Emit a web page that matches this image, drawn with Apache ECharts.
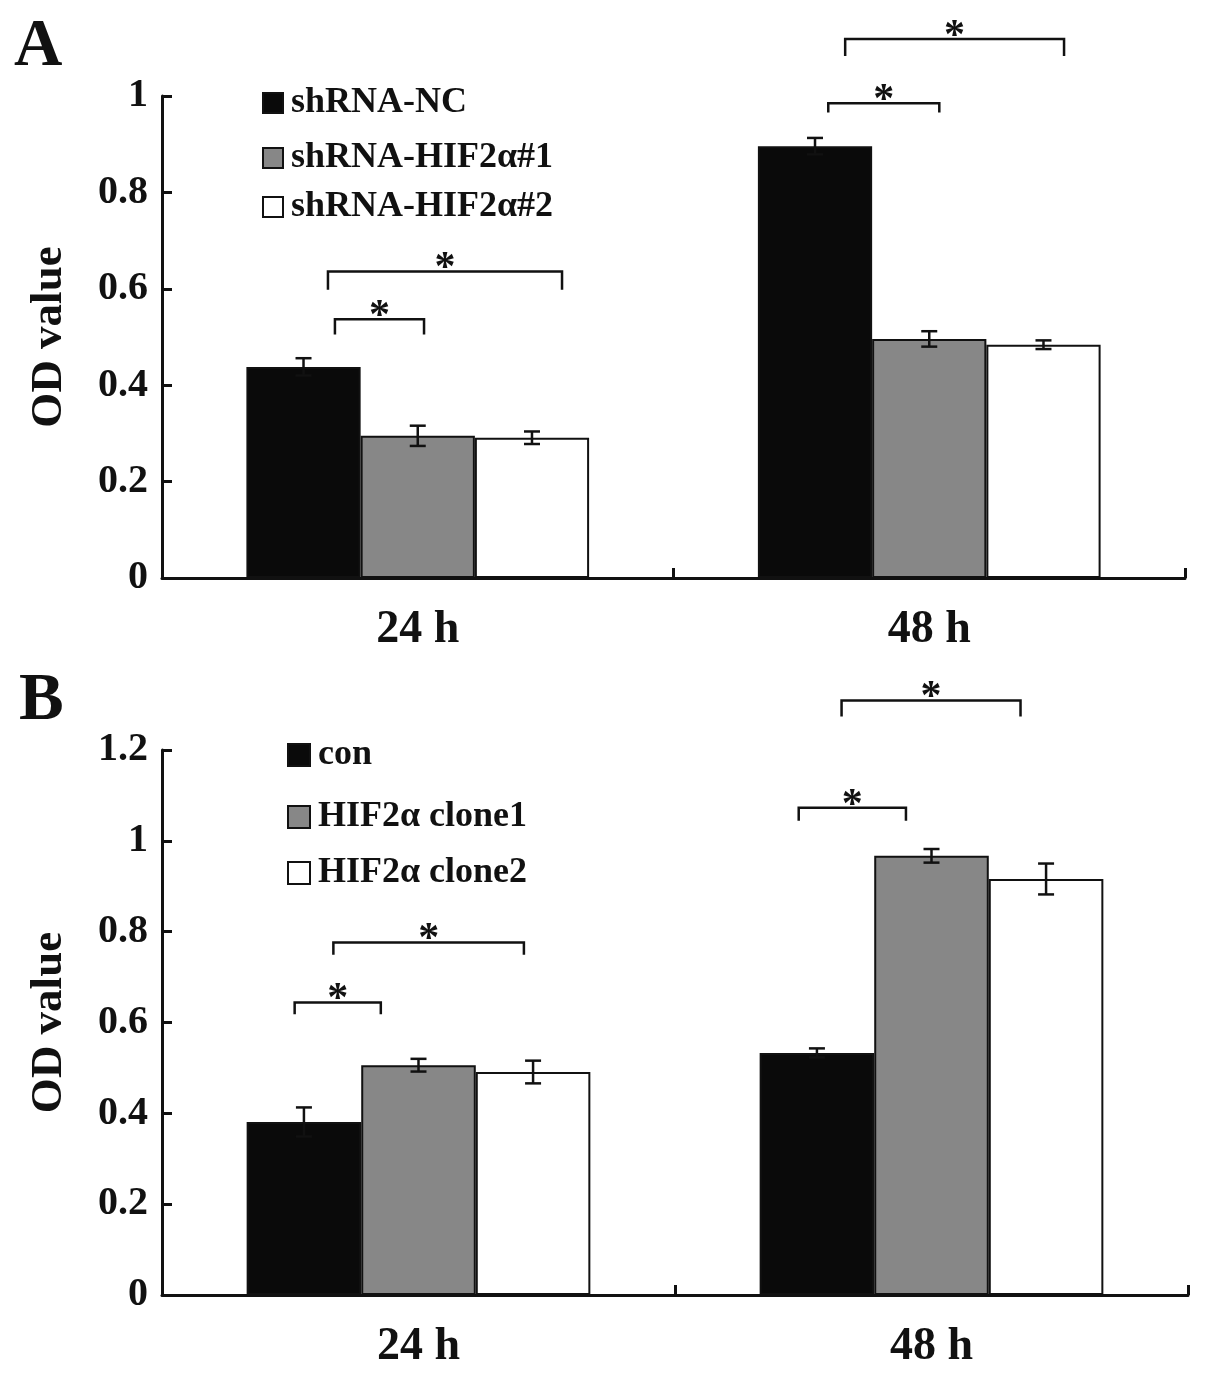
<!DOCTYPE html>
<html><head><meta charset="utf-8">
<script src="https://cdn.jsdelivr.net/npm/echarts@6/dist/echarts.min.js"></script>
<style>html,body{margin:0;padding:0;background:#fff}#c{width:1205px;height:1381px}</style>
</head><body><div id="c"></div>
<script>
// ---------- data ----------
const categories = ['24 h', '48 h'];

const seriesNamesA = ['shRNA-NC', 'shRNA-HIF2α#1', 'shRNA-HIF2α#2'];
const ncA   = [0.438, 0.896];
const hif1A = [0.295, 0.496];
const hif2A = [0.291, 0.484];
const ncErrA   = [0.018, 0.017];
const hif1ErrA = [0.021, 0.016];
const hif2ErrA = [0.013, 0.009];

const seriesNamesB = ['con', 'HIF2α clone1', 'HIF2α clone2'];
const conB    = [0.381, 0.533];
const clone1B = [0.506, 0.967];
const clone2B = [0.491, 0.916];
const conErrB    = [0.032, 0.010];
const clone1ErrB = [0.014, 0.015];
const clone2ErrB = [0.025, 0.034];

const yAxisA = { min: 0, max: 1, interval: 0.2 };
const yAxisB = { min: 0, max: 1.2, interval: 0.2 };

// significance brackets: [category, from bar slot, to bar slot, bracket level, leg end level]
const bracketsA = [
  [0, 0.275, 1.055, 0.537, 0.505],
  [0, 0.214, 2.263, 0.636, 0.598],
  [1, 0.116, 1.088, 0.985, 0.966],
  [1, 0.264, 2.180, 1.118, 1.083]
];
const bracketsB = [
  [0, -0.081, 0.671, 0.644, 0.618],
  [0, 0.257, 1.920, 0.776, 0.749],
  [1, -0.159, 0.777, 1.073, 1.044],
  [1, 0.215, 1.777, 1.309, 1.274]
];

// ---------- styling ----------
const FONT = '"Liberation Serif", "Times New Roman", serif';
const INK = '#111';
const GAP = 0.33;
const fills = ['#0a0a0a', '#878787', '#ffffff'];

function errRender(slot) {
  return function (params, api) {
    const cat = api.value(0), v = api.value(1), e = api.value(2);
    const band = api.size([1, 0])[0];
    const bw = band * (1 - GAP) / 3;
    const hi = api.coord([cat, v + e]);
    const lo = api.coord([cat, v - e]);
    const x = hi[0] + (slot - 1) * bw;
    const cap = 8;
    const st = { stroke: INK, lineWidth: 2.5 };
    return { type: 'group', children: [
      { type: 'line', shape: { x1: x, y1: hi[1], x2: x, y2: lo[1] }, style: st },
      { type: 'line', shape: { x1: x - cap, y1: hi[1], x2: x + cap, y2: hi[1] }, style: st },
      { type: 'line', shape: { x1: x - cap, y1: lo[1], x2: x + cap, y2: lo[1] }, style: st }
    ]};
  };
}

function bracketRender(params, api) {
  const cat = api.value(0), s0 = api.value(1), s1 = api.value(2), yl = api.value(3), ye = api.value(4);
  const band = api.size([1, 0])[0];
  const bw = band * (1 - GAP) / 3;
  const c = api.coord([cat, yl]);
  const e = api.coord([cat, ye]);
  const x0 = c[0] + (s0 - 1) * bw, x1 = c[0] + (s1 - 1) * bw;
  return { type: 'group', children: [
    { type: 'polyline', shape: { points: [[x0, e[1]], [x0, c[1]], [x1, c[1]], [x1, e[1]]] },
      style: { stroke: INK, lineWidth: 2.5, fill: null } },
    { type: 'text', style: { text: '*', x: (x0 + x1) / 2, y: c[1] - 2, align: 'center', verticalAlign: 'middle',
      font: 'bold 42px ' + FONT, fill: INK } }
  ]};
}

function barSeries(name, data, idx, axis) {
  return {
    name: name, type: 'bar', data: data, xAxisIndex: axis, yAxisIndex: axis,
    barGap: '0%', barCategoryGap: (GAP * 100) + '%',
    itemStyle: { color: fills[idx], borderColor: INK, borderWidth: 2 },
    z: 2
  };
}
function errSeries(vals, errs, slot, axis) {
  return {
    type: 'custom', xAxisIndex: axis, yAxisIndex: axis, renderItem: errRender(slot),
    data: vals.map((v, i) => [i, v, errs[i]]), encode: { x: 0, y: 1 }, z: 5, clip: false, silent: true
  };
}
function bracketSeries(br, axis) {
  return {
    type: 'custom', xAxisIndex: axis, yAxisIndex: axis, renderItem: bracketRender,
    data: br, encode: { x: 0, y: 3 }, z: 5, clip: false, silent: true
  };
}
function xAxis(grid) {
  return {
    type: 'category', data: categories, gridIndex: grid,
    axisLine: { lineStyle: { color: INK, width: 3 } },
    axisTick: { show: true, inside: true, length: 10, lineStyle: { color: INK, width: 3 } },
    axisLabel: { color: INK, fontFamily: FONT, fontWeight: 'bold', fontSize: 46, margin: 29 },
    splitLine: { show: false }
  };
}
function yAxis(grid, cfg) {
  return {
    type: 'value', gridIndex: grid, min: cfg.min, max: cfg.max, interval: cfg.interval,
    name: 'OD value', nameLocation: 'middle', nameGap: 90,
    nameTextStyle: { color: INK, fontFamily: FONT, fontWeight: 'bold', fontSize: 45 },
    axisLine: { show: true, lineStyle: { color: INK, width: 3 } },
    axisTick: { show: true, inside: true, length: 10, lineStyle: { color: INK, width: 3 } },
    axisLabel: { color: INK, fontFamily: FONT, fontWeight: 'bold', fontSize: 40, margin: 14 },
    splitLine: { show: false }
  };
}
function legendItem(name, left, centerY, size) {
  return {
    data: [name], left: left, top: centerY - 21, padding: 0, orient: 'vertical',
    itemWidth: size, itemHeight: size, icon: 'rect', selectedMode: false,
    textStyle: { color: INK, fontFamily: FONT, fontWeight: 'bold', fontSize: 36, lineHeight: 42, padding: [0, 0, 0, 3] }
  };
}

const option = {
  backgroundColor: '#fff',
  animation: false,
  grid: [
    { left: 162, right: 20, top: 96, bottom: 803 },
    { left: 162, right: 17, top: 750, bottom: 86 }
  ],
  xAxis: [xAxis(0), xAxis(1)],
  yAxis: [yAxis(0, yAxisA), yAxis(1, yAxisB)],
  legend: [
    legendItem(seriesNamesA[0], 262, 103, 20),
    legendItem(seriesNamesA[1], 262, 158, 20),
    legendItem(seriesNamesA[2], 262, 207, 20),
    legendItem(seriesNamesB[0], 287, 755, 22),
    legendItem(seriesNamesB[1], 287, 817, 22),
    legendItem(seriesNamesB[2], 287, 873, 22)
  ],
  graphic: [
    { type: 'text', left: 14, top: 14, style: { text: 'A', font: 'bold 67px ' + FONT, fill: INK } },
    { type: 'text', left: 19, top: 668, style: { text: 'B', font: 'bold 67px ' + FONT, fill: INK } }
  ],
  series: [
    barSeries(seriesNamesA[0], ncA, 0, 0),
    barSeries(seriesNamesA[1], hif1A, 1, 0),
    barSeries(seriesNamesA[2], hif2A, 2, 0),
    errSeries(ncA, ncErrA, 0, 0),
    errSeries(hif1A, hif1ErrA, 1, 0),
    errSeries(hif2A, hif2ErrA, 2, 0),
    bracketSeries(bracketsA, 0),
    barSeries(seriesNamesB[0], conB, 0, 1),
    barSeries(seriesNamesB[1], clone1B, 1, 1),
    barSeries(seriesNamesB[2], clone2B, 2, 1),
    errSeries(conB, conErrB, 0, 1),
    errSeries(clone1B, clone1ErrB, 1, 1),
    errSeries(clone2B, clone2ErrB, 2, 1),
    bracketSeries(bracketsB, 1)
  ]
};
const chart = echarts.init(document.getElementById('c'), null, { renderer: 'canvas' });
chart.setOption(option);
</script>
</body></html>
